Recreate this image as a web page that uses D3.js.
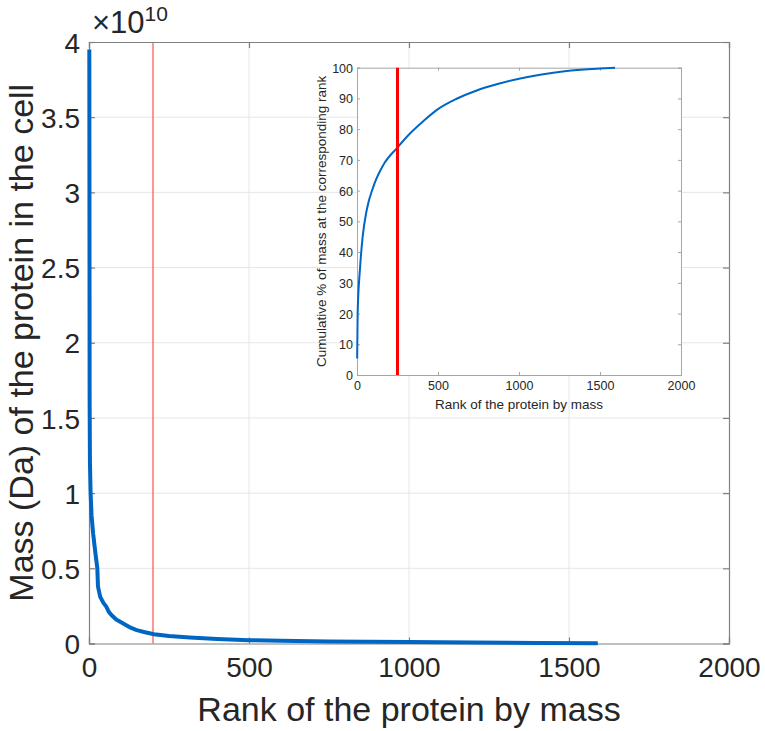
<!DOCTYPE html>
<html>
<head>
<meta charset="utf-8">
<script src="https://cdn.jsdelivr.net/npm/d3@7"></script>
<style>
  body { margin: 0; background: #fff; }
  text { font-family: "Liberation Sans", Arial, Helvetica, sans-serif; fill: #262626; }
</style>
</head>
<body>
<div id="chart"></div>
<script>
//main curve: rank of protein vs its mass (units of 1e10 Da)
var massRank  = [1, 2, 3, 5, 8, 13, 20, 26, 28, 35, 45, 54, 62, 70, 85, 107, 130, 149, 175, 203, 250, 315, 400, 500, 600, 750, 1000, 1200, 1400, 1590];
var massValue = [3.95, 1.6, 1.2, 1.0, 0.85, 0.73, 0.6, 0.5, 0.38, 0.31, 0.27, 0.245, 0.21, 0.19, 0.16, 0.133, 0.105, 0.089, 0.075, 0.062, 0.05, 0.04, 0.03, 0.022, 0.018, 0.014, 0.010, 0.007, 0.004, 0.001];

//inset curve: cumulative % of mass at each rank
var cumRank  = [1, 4, 19, 35, 60, 101, 162, 249, 327, 409, 502, 615, 739, 862, 1000, 1130, 1294, 1500, 1593];
var cumValue = [5.4, 20, 35, 45, 53.7, 61.3, 68.3, 74.0, 78.6, 82.6, 86.6, 89.9, 92.6, 94.6, 96.4, 97.7, 98.9, 99.7, 100];

//cut-off markers
var mainCut = 200;
var insetCut = 250;

//tick values
var mainXTicks = [0, 500, 1000, 1500, 2000];
var mainYTicks = [0, 0.5, 1, 1.5, 2, 2.5, 3, 3.5, 4];
var insetXTicks = [0, 500, 1000, 1500, 2000];
var insetYTicks = [0, 10, 20, 30, 40, 50, 60, 70, 80, 90, 100];

var W = 765, H = 731;
var svg = d3.select("#chart").append("svg")
  .attr("width", W)
  .attr("height", H);

//---- main axes ----
var m = {left: 89, right: 729, top: 42, bottom: 643.5};
var x = d3.scaleLinear().domain([0, 2000]).range([m.left, m.right]);
var y = d3.scaleLinear().domain([0, 4]).range([m.bottom, m.top]);

//grid
var grid = svg.append("g").attr("class", "grid");
grid.selectAll("line.gx")
  .data(mainXTicks.slice(1, -1))
  .enter().append("line")
  .attr("x1", function(d) { return x(d); })
  .attr("x2", function(d) { return x(d); })
  .attr("y1", m.top).attr("y2", m.bottom)
  .attr("stroke", "#e6e6e6").attr("stroke-width", 1);
grid.selectAll("line.gy")
  .data(mainYTicks.slice(1, -1))
  .enter().append("line")
  .attr("y1", function(d) { return y(d); })
  .attr("y2", function(d) { return y(d); })
  .attr("x1", m.left).attr("x2", m.right)
  .attr("stroke", "#e6e6e6").attr("stroke-width", 1);

//red cut-off line
svg.append("line")
  .attr("x1", x(mainCut)).attr("x2", x(mainCut))
  .attr("y1", m.top).attr("y2", m.bottom)
  .attr("stroke", "#ff5050").attr("stroke-width", 1.2);

//axes (ticks inside, box on)
var xAxis = svg.append("g")
  .attr("transform", "translate(0," + m.bottom + ")")
  .call(d3.axisBottom(x).tickValues(mainXTicks).tickSize(-6).tickPadding(14).tickFormat(d3.format("d")));
var xAxisTop = svg.append("g")
  .attr("transform", "translate(0," + m.top + ")")
  .call(d3.axisTop(x).tickValues(mainXTicks).tickSize(-6).tickFormat(""));
var yAxis = svg.append("g")
  .attr("transform", "translate(" + m.left + ",0)")
  .call(d3.axisLeft(y).tickValues(mainYTicks).tickSize(-6).tickPadding(9).tickFormat(function(d) { return d; }));
var yAxisRight = svg.append("g")
  .attr("transform", "translate(" + m.right + ",0)")
  .call(d3.axisRight(y).tickValues(mainYTicks).tickSize(-6).tickFormat(""));

[xAxis, xAxisTop, yAxis, yAxisRight].forEach(function(a) {
  a.select(".domain").attr("stroke", "#808080").attr("stroke-width", 1.2);
  a.selectAll(".tick line").attr("stroke", "#808080").attr("stroke-width", 1.2);
  a.selectAll(".tick text").attr("font-size", 28).attr("fill", "#1a1a1a")
    .attr("font-family", "Liberation Sans, Arial, sans-serif");
});
xAxis.selectAll(".tick text").attr("dy", "0.71em");
yAxis.selectAll(".tick text").attr("dy", "0.36em");

//blue mass curve
var massLine = d3.line()
  .x(function(d, i) { return x(massRank[i]); })
  .y(function(d) { return y(d); });
svg.append("path")
  .datum(massValue)
  .attr("d", massLine)
  .attr("fill", "none")
  .attr("stroke", "#0066c4")
  .attr("stroke-width", 4)
  .attr("stroke-linejoin", "round");

//exponent label
var expo = svg.append("text")
  .attr("x", 92).attr("y", 33)
  .attr("font-size", 31).attr("fill", "#1a1a1a");
expo.append("tspan").text("\u00d710");
expo.append("tspan").attr("font-size", 21).attr("dy", -12).text("10");

//axis labels
svg.append("text")
  .attr("x", (m.left + m.right) / 2).attr("y", 721)
  .attr("text-anchor", "middle")
  .attr("font-size", 34).attr("fill", "#1a1a1a")
  .text("Rank of the protein by mass");
svg.append("text")
  .attr("transform", "translate(33," + (m.top + m.bottom) / 2 + ") rotate(-90)")
  .attr("text-anchor", "middle")
  .attr("font-size", 34).attr("fill", "#1a1a1a")
  .text("Mass (Da) of the protein in the cell");

//---- inset axes ----
var n = {left: 357, right: 681, top: 67.7, bottom: 375};
var ix = d3.scaleLinear().domain([0, 2000]).range([n.left, n.right]);
var iy = d3.scaleLinear().domain([0, 100]).range([n.bottom, n.top]);

svg.append("rect")
  .attr("x", n.left).attr("y", n.top)
  .attr("width", n.right - n.left).attr("height", n.bottom - n.top)
  .attr("fill", "#fff");

var ixAxis = svg.append("g")
  .attr("transform", "translate(0," + n.bottom + ")")
  .call(d3.axisBottom(ix).tickValues(insetXTicks).tickSize(-3).tickPadding(6).tickFormat(d3.format("d")));
var ixAxisTop = svg.append("g")
  .attr("transform", "translate(0," + n.top + ")")
  .call(d3.axisTop(ix).tickValues(insetXTicks).tickSize(-3).tickFormat(""));
var iyAxis = svg.append("g")
  .attr("transform", "translate(" + n.left + ",0)")
  .call(d3.axisLeft(iy).tickValues(insetYTicks).tickSize(-3).tickPadding(4).tickFormat(d3.format("d")));
var iyAxisRight = svg.append("g")
  .attr("transform", "translate(" + n.right + ",0)")
  .call(d3.axisRight(iy).tickValues(insetYTicks).tickSize(-3).tickFormat(""));

[ixAxis, ixAxisTop, iyAxis, iyAxisRight].forEach(function(a) {
  a.select(".domain").attr("stroke", "#a6a6a6").attr("stroke-width", 1);
  a.selectAll(".tick line").attr("stroke", "#a6a6a6").attr("stroke-width", 1);
  a.selectAll(".tick text").attr("font-size", 12.5).attr("fill", "#1a1a1a")
    .attr("font-family", "Liberation Sans, Arial, sans-serif");
});
ixAxis.selectAll(".tick text").attr("dy", "0.71em");
iyAxis.selectAll(".tick text").attr("dy", "0.36em");

//cumulative curve
var cumLine = d3.line()
  .x(function(d, i) { return ix(cumRank[i]); })
  .y(function(d) { return iy(d); })
  .curve(d3.curveMonotoneX);
svg.append("path")
  .datum(cumValue)
  .attr("d", cumLine)
  .attr("fill", "none")
  .attr("stroke", "#0066c4")
  .attr("stroke-width", 2);

//inset red cut-off
svg.append("line")
  .attr("x1", ix(insetCut)).attr("x2", ix(insetCut))
  .attr("y1", n.top).attr("y2", n.bottom)
  .attr("stroke", "#ff0000").attr("stroke-width", 3);

svg.append("text")
  .attr("x", (n.left + n.right) / 2).attr("y", 409)
  .attr("text-anchor", "middle")
  .attr("font-size", 13.5).attr("fill", "#1a1a1a")
  .text("Rank of the protein by mass");
svg.append("text")
  .attr("transform", "translate(326," + (n.top + n.bottom) / 2 + ") rotate(-90)")
  .attr("text-anchor", "middle")
  .attr("font-size", 13.5).attr("fill", "#1a1a1a")
  .text("Cumulative % of mass at the corresponding rank");
</script>
</body>
</html>
